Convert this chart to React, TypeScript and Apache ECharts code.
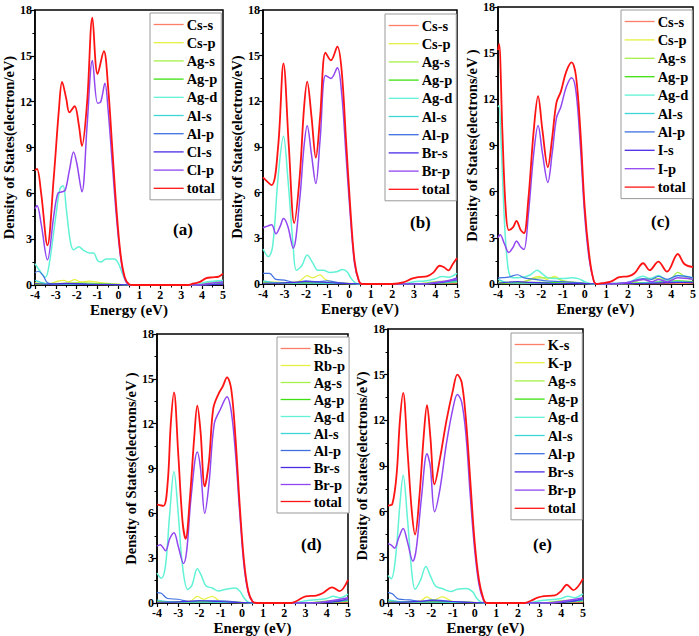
import React, { useEffect, useRef } from "react";
import * as echarts from "echarts";

// ---------- Panel (a) Cs2AgAlCl6 ----------
const aNames = ["Cs-s", "Cs-p", "Ag-s", "Ag-p", "Ag-d", "Al-s", "Al-p", "Cl-s", "Cl-p", "total"];
const aAs = [[-4,0.05],[-3,0.03],[-2,0.05],[-1,0.03],[0,0.01],[0.5,0],[3.5,0],[5,0.05]];
const aAp = [[-4,0.15],[-3.4,0.05],[-2.9,0.25],[-2.6,0.3],[-2.4,0.2],[-2.1,0.35],[-1.8,0.2],[-1.4,0.25],[-1.1,0.2],[-0.5,0.1],[0.3,0.02],[0.6,0],[3.5,0],[4.5,0.1],[5,0.15]];
const aAgs = [[-4,0.1],[-3,0.1],[-2,0.15],[-1,0.1],[0,0.05],[0.5,0],[3.5,0],[4.2,0.15],[5,0.3]];
const aAgp = [[-4,0.05],[-2,0.08],[0,0.03],[0.5,0],[3.6,0],[4.5,0.08],[5,0.15]];
const aAgd = [[-4,1.4],[-3.8,1.0],[-3.5,0.5],[-3.3,1.5],[-3.0,4.5],[-2.8,6.3],[-2.65,6.5],[-2.5,5],[-2.3,2.8],[-2.15,2.3],[-1.9,2.5],[-1.7,2.3],[-1.4,2.1],[-1.2,2.1],[-1.0,1.6],[-0.85,1.5],[-0.6,1.7],[-0.2,1.7],[0,1.4],[0.2,0.7],[0.4,0.15],[0.6,0],[3.6,0],[4.2,0.2],[5,0.3]];
const aAls = [[-4,0.3],[-3.5,0.1],[-3,0.05],[-2,0.05],[0,0.02],[0.5,0],[3.8,0],[5,0.2]];
const aAlp = [[-4,0.8],[-3.85,0.9],[-3.6,0.6],[-3.4,0.15],[-3,0.05],[-2,0.08],[-1,0.05],[0,0.02],[0.5,0],[4,0],[5,0.1]];
const aXs = [[-4,0.1],[-3.5,0.05],[-2.5,0.1],[-1.5,0.05],[0,0.02],[0.5,0],[4,0],[5,0.05]];
const aXp = [[-4,5.0],[-3.9,5.2],[-3.7,4],[-3.4,1.65],[-3.1,4.5],[-2.9,6.0],[-2.7,6.1],[-2.55,6.2],[-2.35,7.5],[-2.15,8.7],[-2.0,8],[-1.75,6.1],[-1.5,10.5],[-1.25,14.7],[-1.0,11.9],[-0.85,12],[-0.65,13.2],[-0.5,11.5],[-0.3,8],[-0.1,4.5],[0.1,1.8],[0.3,0.4],[0.5,0.02],[0.7,0],[3.8,0],[4.3,0.1],[5,0.2]];
const aTot = [[-4,7.5],[-3.9,7.6],[-3.7,6],[-3.4,2.6],[-3.1,7],[-2.85,11.5],[-2.7,13.3],[-2.5,12.2],[-2.35,11.3],[-2.1,11.7],[-1.9,10.5],[-1.75,9.1],[-1.5,12],[-1.25,17.5],[-1.0,13.8],[-0.7,15.3],[-0.5,13],[-0.3,9],[-0.1,5],[0.1,2],[0.3,0.5],[0.5,0.05],[0.7,0],[3.3,0],[3.6,0.1],[3.9,0.2],[4.2,0.45],[4.5,0.5],[4.8,0.55],[5,0.75]];

// ---------- Panel (b) Cs2AgAlBr6 ----------
const bNames = ["Cs-s", "Cs-p", "Ag-s", "Ag-p", "Ag-d", "Al-s", "Al-p", "Br-s", "Br-p", "total"];
const bAs = [[-4,0.05],[-3,0.03],[-2,0.05],[-1,0.03],[0,0.01],[0.5,0],[3,0],[5,0.05]];
const bAp = [[-4,0.15],[-3,0.1],[-2.3,0.2],[-1.95,0.55],[-1.7,0.4],[-1.35,0.6],[-1.15,0.35],[-0.8,0.1],[0,0.02],[0.5,0],[3,0],[4,0.1],[5,0.1]];
const bAgs = [[-4,0.1],[-3,0.08],[-2,0.12],[-1,0.1],[0,0.05],[0.5,0],[3,0],[4,0.15],[5,0.2]];
const bAgp = [[-4,0.05],[-2,0.08],[0,0.03],[0.5,0],[3,0],[4.5,0.08],[5,0.15]];
const bAgd = [[-4,2.3],[-3.75,1.8],[-3.55,2.5],[-3.3,7],[-3.05,9.7],[-2.85,7],[-2.6,2.5],[-2.45,0.9],[-2.2,1.2],[-1.95,1.9],[-1.7,1.4],[-1.45,0.9],[-1.2,0.9],[-0.9,0.75],[-0.6,0.8],[-0.3,0.95],[-0.1,0.8],[0.1,0.35],[0.3,0.05],[0.5,0],[2.5,0],[3,0.15],[3.5,0.2],[4,0.35],[4.3,0.5],[4.6,0.45],[5,0.7]];
const bAls = [[-4,0.2],[-3.5,0.1],[-3,0.05],[-2,0.05],[0,0.02],[0.5,0],[3,0],[5,0.15]];
const bAlp = [[-4,0.7],[-3.7,0.7],[-3.4,0.3],[-3,0.25],[-2.5,0.1],[-2,0.2],[-1.5,0.15],[-1,0.2],[-0.5,0.1],[0,0.02],[0.5,0],[3.2,0],[4,0.1],[5,0.25]];
const bXs = [[-4,0.05],[-3,0.08],[-2,0.15],[-1,0.1],[0,0.02],[0.5,0],[3.5,0],[4.5,0.15],[5,0.4]];
const bXp = [[-4,3.7],[-3.8,3.8],[-3.6,3.9],[-3.4,3.3],[-3.2,3.8],[-3.05,4.3],[-2.85,3.8],[-2.6,2.35],[-2.3,5.5],[-2.1,9],[-1.95,10.4],[-1.75,8.5],[-1.55,6.6],[-1.35,9.5],[-1.1,13.7],[-0.85,13.5],[-0.55,14.2],[-0.35,12.5],[-0.15,8.5],[0.05,4.5],[0.25,1.3],[0.45,0.2],[0.6,0],[3.5,0],[4,0.1],[4.5,0.2],[5,0.35]];
const bTot = [[-4,7.0],[-3.6,6.5],[-3.3,9],[-3.05,14.5],[-2.8,9],[-2.55,4],[-2.3,7],[-2.1,11.5],[-1.95,13.3],[-1.75,11],[-1.55,8.3],[-1.35,11],[-1.1,15.2],[-0.85,14.7],[-0.55,15.6],[-0.35,14],[-0.15,9.5],[0.05,5],[0.25,1.5],[0.45,0.2],[0.6,0],[2.0,0],[2.5,0.1],[2.9,0.35],[3.2,0.45],[3.6,0.5],[3.9,0.75],[4.2,1.2],[4.4,1.1],[4.6,0.9],[4.8,1.3],[5,1.7]];

// ---------- Panel (c) Cs2AgAlI6 ----------
const cNames = ["Cs-s", "Cs-p", "Ag-s", "Ag-p", "Ag-d", "Al-s", "Al-p", "I-s", "I-p", "total"];
const cAs = [[-4,0.05],[-3,0.03],[-2,0.05],[-1,0.03],[0,0.01],[0.5,0],[2,0],[5,0.05]];
const cAp = [[-4,0.1],[-3,0.1],[-2.1,0.5],[-1.75,0.3],[-1.4,0.5],[-1,0.2],[0,0.05],[0.5,0],[2,0],[3,0.1],[5,0.15]];
const cAgs = [[-4,0.1],[-3,0.1],[-2.1,0.4],[-1.4,0.4],[-1,0.2],[0,0.05],[0.5,0],[2,0.05],[2.7,0.3],[3.4,0.35],[3.9,0.25],[4.3,0.75],[4.7,0.4],[5,0.3]];
const cAgp = [[-4,0.05],[-2,0.1],[0,0.03],[0.5,0],[2,0.05],[3,0.1],[4.3,0.2],[5,0.15]];
const cAgd = [[-4,11.5],[-3.95,11.6],[-3.85,9],[-3.7,4],[-3.55,1.2],[-3.4,0.45],[-3.1,0.4],[-2.8,0.45],[-2.5,0.6],[-2.2,0.9],[-1.95,0.65],[-1.7,0.4],[-1.4,0.35],[-1,0.35],[-0.6,0.4],[-0.3,0.35],[0,0.15],[0.3,0.02],[0.5,0],[1.5,0.05],[2,0.1],[2.7,0.5],[3,0.35],[3.4,0.55],[3.8,0.25],[4.3,0.55],[5,0.4]];
const cAls = [[-4,0.3],[-3.6,0.1],[-3,0.05],[-2,0.05],[0,0.02],[0.5,0],[2,0.02],[3,0.1],[4.3,0.15],[5,0.1]];
const cAlp = [[-4,0.4],[-3.5,0.45],[-3.1,0.6],[-2.8,0.4],[-2.3,0.3],[-1.8,0.2],[-1,0.15],[0,0.05],[0.5,0],[1.5,0.05],[2,0.1],[2.7,0.35],[3.1,0.3],[3.4,0.5],[3.8,0.3],[4.3,0.55],[5,0.4]];
const cXs = [[-4,0.05],[-3.1,0.15],[-2.5,0.1],[-1.5,0.05],[0,0.02],[0.5,0],[2,0.02],[3,0.05],[4.3,0.1],[5,0.1]];
const cXp = [[-4,3.0],[-3.9,3.2],[-3.7,2.6],[-3.5,2.05],[-3.3,2.4],[-3.15,2.8],[-2.95,2.4],[-2.8,2.25],[-2.6,4.5],[-2.35,8.5],[-2.15,10.3],[-1.95,8.5],[-1.7,6.6],[-1.5,8.5],[-1.3,10.8],[-1.1,11.5],[-0.85,12.8],[-0.6,13.4],[-0.4,12.5],[-0.2,9],[0,4.5],[0.2,1.7],[0.4,0.3],[0.55,0],[1.5,0.02],[2,0.1],[2.7,0.3],[3.1,0.15],[3.4,0.3],[3.8,0.15],[4.3,0.4],[5,0.3]];
const cTot = [[-4,15.2],[-3.95,15.6],[-3.8,10],[-3.65,5],[-3.5,3.5],[-3.3,3.7],[-3.15,4.1],[-2.95,3.5],[-2.8,3.3],[-2.6,5.5],[-2.35,10],[-2.15,12.2],[-1.95,10],[-1.7,7.6],[-1.5,9.5],[-1.3,11.8],[-1.1,12.5],[-0.85,13.8],[-0.6,14.4],[-0.4,13.5],[-0.2,10],[0,5],[0.2,2],[0.4,0.3],[0.55,0],[0.8,0.05],[1.2,0.15],[1.6,0.45],[2.0,0.5],[2.3,0.7],[2.7,1.35],[3.0,0.9],[3.4,1.45],[3.8,0.8],[4.3,1.95],[4.6,1.3],[5,1.1]];

// ---------- Panel (d) Rb2AgAlBr6 ----------
const dNames = ["Rb-s", "Rb-p", "Ag-s", "Ag-p", "Ag-d", "Al-s", "Al-p", "Br-s", "Br-p", "total"];
const dAs = [[-4,0.05],[-3,0.03],[-2,0.05],[-1,0.03],[0,0.01],[0.5,0],[3,0],[5,0.05]];
const dAp = [[-4,0.1],[-3,0.1],[-2.4,0.15],[-2.1,0.45],[-1.8,0.25],[-1.4,0.45],[-1,0.1],[0,0.02],[0.5,0],[3,0],[4,0.1],[5,0.1]];
const dAgs = [[-4,0.1],[-3,0.08],[-2,0.12],[-1,0.1],[0,0.05],[0.5,0],[3,0],[4,0.15],[5,0.2]];
const dAgp = [[-4,0.05],[-2,0.08],[0,0.03],[0.5,0],[3,0],[4.5,0.08],[5,0.15]];
const dAgd = [[-4,2.0],[-3.8,1.65],[-3.6,2.5],[-3.4,6],[-3.2,8.8],[-3.0,6],[-2.8,2.5],[-2.55,0.9],[-2.35,1.2],[-2.1,2.3],[-1.9,1.8],[-1.7,1.15],[-1.4,1.0],[-1.1,0.8],[-0.8,0.9],[-0.3,1.0],[-0.1,0.8],[0.1,0.35],[0.3,0.05],[0.5,0],[2.5,0],[3,0.15],[4,0.3],[4.3,0.45],[4.6,0.35],[5,0.6]];
const dAls = [[-4,0.2],[-3.5,0.1],[-3,0.05],[-2,0.05],[0,0.02],[0.5,0],[3,0],[5,0.15]];
const dAlp = [[-4,0.7],[-3.8,0.65],[-3.5,0.3],[-3,0.25],[-2.5,0.1],[-2,0.15],[-1,0.15],[0,0.03],[0.5,0],[3.2,0],[4,0.1],[5,0.2]];
const dXs = [[-4,0.05],[-3,0.08],[-2,0.15],[-1,0.1],[0,0.02],[0.5,0],[3.5,0],[4.5,0.1],[5,0.3]];
const dXp = [[-4,3.8],[-3.85,3.9],[-3.6,3.5],[-3.4,4.3],[-3.2,4.7],[-3.0,3.8],[-2.75,2.65],[-2.6,3.5],[-2.4,7],[-2.1,10.1],[-1.95,9],[-1.75,6],[-1.55,8],[-1.3,12],[-1.0,13],[-0.7,13.8],[-0.5,12.8],[-0.3,10],[-0.1,6],[0.1,2.5],[0.3,0.7],[0.5,0.1],[0.7,0],[3.5,0],[4,0.1],[5,0.35]];
const dTot = [[-4,6.6],[-3.7,6.5],[-3.5,8],[-3.35,12],[-3.2,14.1],[-3.0,10],[-2.8,5.5],[-2.65,4.3],[-2.45,7],[-2.25,11],[-2.1,13.2],[-1.95,11.5],[-1.75,7.8],[-1.55,9.5],[-1.35,13],[-1.1,14],[-0.9,14.5],[-0.7,15.1],[-0.5,14.3],[-0.3,11],[-0.1,6.5],[0.1,2.8],[0.3,0.8],[0.5,0.1],[0.7,0],[2.3,0],[2.6,0.15],[3,0.45],[3.5,0.5],[3.8,0.65],[4.25,1.05],[4.6,0.8],[5,1.55]];

// ---------- Panel (e) K2AgAlBr6 ----------
const eNames = ["K-s", "K-p", "Ag-s", "Ag-p", "Ag-d", "Al-s", "Al-p", "Br-s", "Br-p", "total"];
const eAs = [[-4,0.05],[-3,0.03],[-2,0.05],[-1,0.03],[0,0.01],[0.5,0],[3,0],[5,0.05]];
const eAp = [[-4,0.1],[-3,0.1],[-2.5,0.15],[-2.2,0.4],[-1.9,0.2],[-1.5,0.4],[-1,0.1],[0,0.02],[0.5,0],[3,0],[4,0.1],[5,0.1]];
const eAgs = [[-4,0.1],[-3,0.08],[-2,0.12],[-1,0.1],[0,0.05],[0.5,0],[3,0],[4,0.15],[5,0.2]];
const eAgp = [[-4,0.05],[-2,0.08],[0,0.03],[0.5,0],[3,0],[4.5,0.08],[5,0.15]];
const eAgd = [[-4,1.8],[-3.85,1.6],[-3.65,3],[-3.45,6.5],[-3.3,8.4],[-3.1,5.5],[-2.9,2],[-2.75,0.9],[-2.5,1.5],[-2.25,2.4],[-2.05,1.8],[-1.8,1.1],[-1.5,0.95],[-1.1,0.75],[-0.8,0.9],[-0.4,0.95],[-0.1,0.75],[0.1,0.3],[0.3,0.05],[0.5,0],[2.5,0],[3,0.15],[4,0.3],[4.3,0.45],[4.6,0.35],[5,0.6]];
const eAls = [[-4,0.2],[-3.5,0.1],[-3,0.05],[-2,0.05],[0,0.02],[0.5,0],[3,0],[5,0.15]];
const eAlp = [[-4,0.7],[-3.8,0.6],[-3.5,0.25],[-3,0.2],[-2.5,0.1],[-2,0.2],[-1,0.1],[0,0.02],[0.5,0],[3.2,0],[4,0.1],[5,0.2]];
const eXs = [[-4,0.05],[-3,0.08],[-2,0.15],[-1,0.1],[0,0.02],[0.5,0],[3.5,0],[4.5,0.1],[5,0.3]];
const eXp = [[-4,3.9],[-3.85,3.8],[-3.7,3.6],[-3.5,4.3],[-3.3,4.9],[-3.1,4],[-2.85,2.75],[-2.7,3.5],[-2.45,7],[-2.2,9.8],[-2.05,9],[-1.85,6],[-1.6,7.5],[-1.3,10.5],[-1.0,12.8],[-0.8,13.7],[-0.6,13.2],[-0.4,11],[-0.2,7],[0,3.5],[0.2,1.2],[0.4,0.2],[0.55,0],[3.5,0],[4,0.1],[5,0.35]];
const eTot = [[-4,6.4],[-3.8,6.5],[-3.6,8.5],[-3.45,12],[-3.3,13.8],[-3.1,10],[-2.9,6],[-2.75,4.5],[-2.55,7],[-2.35,11],[-2.2,13],[-2.05,11],[-1.85,7.8],[-1.6,9.5],[-1.3,12],[-1.0,14],[-0.8,15],[-0.6,14.5],[-0.4,12],[-0.2,8],[0,4],[0.2,1.5],[0.4,0.3],[0.55,0],[2.3,0],[2.6,0.15],[2.9,0.35],[3.2,0.45],[3.7,0.5],[4.0,0.8],[4.25,1.2],[4.55,0.85],[5,1.6]];

const xTicks = { min: -4, max: 5, interval: 1 };
const yTicks = { min: 0, max: 18, interval: 3 };
const panelTags = ["(a)", "(b)", "(c)", "(d)", "(e)"];
const yTitles = [
  "Density of States(electron/eV)",
  "Density of States(electron/eV)",
  "Density of States(electrons/eV )",
  "Density of States(electrons/eV )",
  "Density of States(electrons/eV)",
];

const colors = ["#ff7f66", "#e6f040", "#a6f04c", "#3fe012", "#62f2d6", "#3fd6d6", "#4070e0", "#4a2ce6", "#9146f0", "#ff1414"];

const panels = [
  { names: aNames, data: [aAs, aAp, aAgs, aAgp, aAgd, aAls, aAlp, aXs, aXp, aTot] },
  { names: bNames, data: [bAs, bAp, bAgs, bAgp, bAgd, bAls, bAlp, bXs, bXp, bTot] },
  { names: cNames, data: [cAs, cAp, cAgs, cAgp, cAgd, cAls, cAlp, cXs, cXp, cTot] },
  { names: dNames, data: [dAs, dAp, dAgs, dAgp, dAgd, dAls, dAlp, dXs, dXp, dTot] },
  { names: eNames, data: [eAs, eAp, eAgs, eAgp, eAgd, eAls, eAlp, eXs, eXp, eTot] },
];

const FONT = "Liberation Serif";

export default function App() {
  const ref = useRef<HTMLDivElement>(null);
  useEffect(() => {
    if (!ref.current) return;
    const chart = echarts.init(ref.current, undefined, { renderer: "svg" });
    const grids = [
      { left: 31, top: 10, width: 192, height: 275 },
      { left: 263, top: 10, width: 194, height: 274 },
      { left: 498, top: 7, width: 197, height: 277 },
      { left: 157, top: 334, width: 191, height: 271 },
      { left: 388, top: 329, width: 195, height: 275 },
    ];
    const legends = [
      { left: 150, top: 13, gap: 3.2 },
      { left: 385, top: 14, gap: 3.2 },
      { left: 621, top: 10, gap: 3.4 },
      { left: 277, top: 337, gap: 2.0 },
      { left: 511, top: 333, gap: 3.2 },
    ];
    const series: any[] = [];
    panels.forEach((p, pi) => {
      p.names.forEach((n, si) => {
        series.push({
          type: "line",
          name: n,
          xAxisIndex: pi,
          yAxisIndex: pi,
          data: p.data[si],
          smooth: 0.35,
          symbol: "none",
          clip: true,
          z: si === 9 ? 5 : 2 + si * 0.1,
          lineStyle: { color: colors[si], width: si === 9 ? 1.8 : si === 8 || si === 4 ? 1.5 : 1.2 },
          itemStyle: { color: colors[si] },
        });
      });
    });
    const axisLine = { show: true, onZero: false, lineStyle: { color: "#000", width: 1.5 } };
    const option: any = {
      animation: false,
      backgroundColor: "#fff",
      grid: grids.map((g) => ({ ...g, show: true, borderColor: "#000", borderWidth: 1.5, containLabel: false })),
      xAxis: grids.map((g, i) => ({
        type: "value",
        gridIndex: i,
        ...xTicks,
        name: "Energy (eV)",
        nameLocation: "middle",
        nameGap: 17,
        nameTextStyle: { fontFamily: FONT, fontWeight: "bold", fontSize: 15, color: "#000" },
        axisLine,
        axisTick: { show: true, length: 4, lineStyle: { color: "#000", width: 1.2 } },
        minorTick: { show: true, splitNumber: 2, length: 2.5, lineStyle: { color: "#000", width: 1 } },
        axisLabel: { margin: 4, fontFamily: FONT, fontWeight: "bold", fontSize: 12, color: "#000" },
        splitLine: { show: false },
      })),
      yAxis: grids.map((g, i) => ({
        type: "value",
        gridIndex: i,
        ...yTicks,
        name: yTitles[i],
        nameLocation: "middle",
        nameGap: 16,
        nameTextStyle: { fontFamily: FONT, fontWeight: "bold", fontSize: 14.5, color: "#000" },
        axisLine,
        axisTick: { show: true, length: 4, lineStyle: { color: "#000", width: 1.2 } },
        minorTick: { show: true, splitNumber: 2, length: 2.5, lineStyle: { color: "#000", width: 1 } },
        axisLabel: { margin: 3, fontFamily: FONT, fontWeight: "bold", fontSize: 12, color: "#000" },
        splitLine: { show: false },
      })),
      legend: panels.map((p, i) => ({
        data: p.names,
        orient: "vertical",
        left: legends[i].left,
        top: legends[i].top,
        itemWidth: 30,
        itemHeight: 14,
        itemGap: legends[i].gap,
        padding: [4, 4, 4, 3],
        borderColor: "#999",
        borderWidth: 1,
        backgroundColor: "#fff",
        selectedMode: false,
        itemStyle: { color: "rgba(0,0,0,0)", borderWidth: 0, opacity: 0 },
        lineStyle: { width: 1.3 },
        textStyle: { fontFamily: FONT, fontWeight: "bold", fontSize: 14.5, lineHeight: 14, height: 14, color: "#000", padding: [0, 0, 0, -2] },
      })),
      graphic: [
        { type: "text", left: 173, top: 221, style: { text: panelTags[0], font: `bold 17px ${FONT}`, fill: "#000" } },
        { type: "text", left: 410, top: 214, style: { text: panelTags[1], font: `bold 17px ${FONT}`, fill: "#000" } },
        { type: "text", left: 651, top: 213, style: { text: panelTags[2], font: `bold 17px ${FONT}`, fill: "#000" } },
        { type: "text", left: 301, top: 536, style: { text: panelTags[3], font: `bold 17px ${FONT}`, fill: "#000" } },
        { type: "text", left: 533, top: 536, style: { text: panelTags[4], font: `bold 17px ${FONT}`, fill: "#000" } },
      ],
      series,
    };
    chart.setOption(option);
    return () => chart.dispose();
  }, []);
  return <div ref={ref} style={{ position: "fixed", left: 0, top: 0, width: 699, height: 636 }} />;
}
